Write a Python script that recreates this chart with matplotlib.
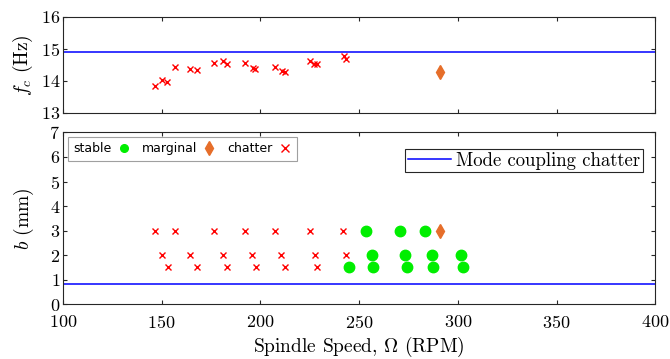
import matplotlib
matplotlib.use("Agg")
import matplotlib.pyplot as plt
from matplotlib.lines import Line2D

plt.rcParams['font.family'] = 'serif'
plt.rcParams['font.serif'] = ['cmr10']
plt.rcParams['mathtext.fontset'] = 'cm'
plt.rcParams['axes.formatter.use_mathtext'] = True
plt.rcParams['axes.unicode_minus'] = False

# 数据
mode_fc = 14.89      # Hz, 模态耦合颤振频率
mode_b = 0.82        # mm, 模态耦合颤振极限

# 上图：颤振频率
fc_speed = [146.4, 150.1, 152.9, 156.7, 164.3, 168.1, 176.3, 181.2, 183.1, 192.4,
            196.1, 197.5, 207.2, 210.8, 212.3, 225.0, 227.2, 228.7, 242.1, 243.6]
fc_val = [13.83, 14.01, 13.95, 14.44, 14.38, 14.34, 14.57, 14.62, 14.53, 14.57,
          14.40, 14.37, 14.44, 14.32, 14.28, 14.62, 14.52, 14.54, 14.77, 14.69]
fc_chat_speed = [291.2]
fc_chat_val = [14.28]

# 下图：切削试验
x_speed = [146.4, 156.7, 176.3, 192.4, 207.2, 225.0, 241.6,
           150.1, 164.3, 181.2, 195.9, 210.6, 227.4, 243.6,
           153.2, 168.1, 183.1, 197.6, 212.3, 228.9]
x_b = [3, 3, 3, 3, 3, 3, 3,
       2, 2, 2, 2, 2, 2, 2,
       1.5, 1.5, 1.5, 1.5, 1.5, 1.5]
g_speed = [253.7, 270.9, 283.6,
           256.6, 273.0, 286.7, 301.5,
           244.9, 256.9, 274.0, 287.5, 302.4]
g_b = [3, 3, 3,
       2, 2, 2, 2,
       1.5, 1.5, 1.5, 1.5, 1.5]
d_speed = [291.2]
d_b = [3]

axc = '#262626'
orange = '#e66e2a'

fig = plt.figure(figsize=(6.7, 3.59), dpi=100, facecolor='white')
ax1 = fig.add_axes([0.094, 0.686, 0.884, 0.267])
ax2 = fig.add_axes([0.094, 0.153, 0.884, 0.478])

for ax in (ax1, ax2):
    ax.set_xlim(100, 400)
    ax.set_xticks(range(100, 401, 50))
    ax.tick_params(axis='both', which='major', direction='in', top=True, right=True,
                   length=3, width=0.8, colors=axc, labelsize=13, pad=2)
    ax.tick_params(axis='both', labelcolor='black')
    for s in ax.spines.values():
        s.set_color(axc)
        s.set_linewidth(0.8)
ax2.tick_params(axis='x', pad=7)

# 上图
ax1.axhline(mode_fc, color='#0000ff', lw=1.1)
ax1.plot(fc_speed, fc_val, 'x', color='red', ms=5, mew=1.0)
ax1.plot(fc_chat_speed, fc_chat_val, 'd', color=orange, ms=7.5)
ax1.set_ylim(13, 16)
ax1.set_yticks([13, 14, 15, 16])
ax1.set_xticklabels([])
ax1.set_ylabel('$f_c$ (Hz)', fontsize=14, labelpad=4)

# 下图
ax2.axhline(mode_b, color='#0000ff', lw=1.1)
ax2.plot(x_speed, x_b, 'x', color='red', ms=5, mew=1.0)
ax2.plot(g_speed, g_b, 'o', color='#00ee00', ms=7.5)
ax2.plot(d_speed, d_b, 'd', color=orange, ms=7.5)
ax2.set_ylim(0, 7)
ax2.set_yticks(range(0, 8))
ax2.set_xlabel(r'Spindle Speed, $\Omega$ (RPM)', fontsize=14, labelpad=3)
ax2.set_ylabel('$b$ (mm)', fontsize=14, labelpad=10)

# 图例
h1 = [Line2D([], [], ls='none', marker='o', color='#00ee00', ms=5.5),
      Line2D([], [], ls='none', marker='d', color=orange, ms=7),
      Line2D([], [], ls='none', marker='x', color='red', ms=6, mew=1)]
leg1 = ax2.legend(h1, ['stable', 'marginal', 'chatter'], ncol=3, markerfirst=False,
                  loc='upper left', bbox_to_anchor=(0.008, 0.975),
                  prop={'family': 'DejaVu Sans', 'size': 9},
                  frameon=True, fancybox=False, edgecolor='#a0a0a0', framealpha=1,
                  handlelength=1.0, handletextpad=0.5, columnspacing=0.9,
                  borderpad=0.45, borderaxespad=0)
leg1.get_frame().set_linewidth(0.8)
ax2.add_artist(leg1)

h2 = [Line2D([], [], color='#0000ff', lw=1.1)]
leg2 = ax2.legend(h2, ['Mode coupling chatter'], loc='upper right',
                  bbox_to_anchor=(0.98, 0.905), prop={'size': 13.5},
                  frameon=True, fancybox=False, edgecolor=axc, framealpha=1,
                  handlelength=2.3, handletextpad=0.3, borderpad=0.15, borderaxespad=0)
leg2.get_frame().set_linewidth(0.8)

fig.savefig('out.png', dpi=100)
